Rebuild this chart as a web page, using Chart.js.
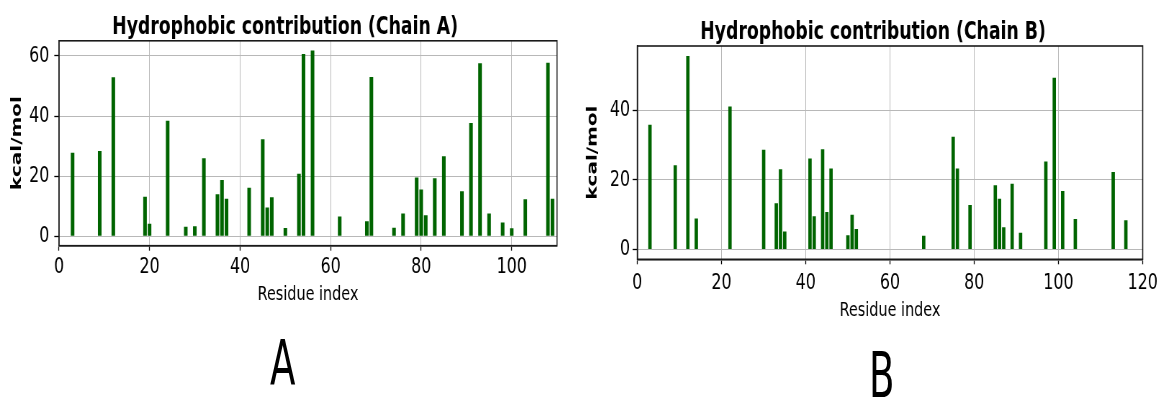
<!DOCTYPE html>
<html>
<head>
<meta charset="utf-8">
<script src="https://cdn.jsdelivr.net/npm/chart.js@4"></script>
<style>
  html, body { margin: 0; padding: 0; background: #fff; width: 1159px; height: 397px; overflow: hidden; }
  .panel { position: absolute; top: 0; transform-origin: 0 0; transform: scaleX(0.72); }
  .tag { position: absolute; font-family: 'DejaVu Sans'; font-size: 62px; line-height: 1; color: #000;
         transform-origin: 0 0; transform: scaleX(0.6); }
</style>
</head>
<body>
<div class="panel" style="left:0px"><canvas id="chartA" width="792" height="307"></canvas></div>
<div class="panel" style="left:580px"><canvas id="chartB" width="814" height="323"></canvas></div>
<div class="tag" style="left:270px; top:333px">A</div>
<div class="tag" style="left:869px; top:345px">B</div>
<script>
// Chain A - residue index and hydrophobic contribution (kcal/mol)
const residuesA = [3, 9, 12, 19, 20, 24, 28, 30, 32, 35, 36, 37, 42, 45, 46, 47, 50, 53, 54, 56,
                   62, 68, 69, 74, 76, 79, 80, 81, 83, 85, 89, 91, 93, 95, 98, 100, 103, 108, 109];
const valuesA = [27.8, 28.4, 52.9, 13.2, 4.2, 38.4, 3.2, 3.4, 26.0, 14.0, 18.7, 12.5, 16.2, 32.3, 9.6, 13.0, 2.8, 20.8, 60.6, 61.8,
                 6.6, 5.0, 53.0, 2.9, 7.6, 19.6, 15.6, 7.0, 19.3, 26.6, 15.0, 37.7, 57.5, 7.6, 4.6, 2.7, 12.3, 57.7, 12.5];

// Chain B
const residuesB = [3, 9, 12, 14, 22, 30, 33, 34, 35, 41, 42, 44, 45, 46, 50, 51, 52, 68, 75, 76,
                   79, 85, 86, 87, 89, 91, 97, 99, 101, 104, 113, 116];
const valuesB = [35.9, 24.2, 55.6, 8.9, 41.1, 28.7, 13.3, 23.1, 5.2, 26.2, 9.6, 28.8, 10.8, 23.3, 4.1, 10.0, 5.9, 4.0, 32.4, 23.3,
                 12.8, 18.5, 14.6, 6.4, 18.9, 4.8, 25.3, 49.4, 16.8, 8.8, 22.3, 8.4];

// tick labels and axis ranges
const xTicksA = [0, 20, 40, 60, 80, 100];
const yTicksA = [0, 20, 40, 60];
const xTicksB = [0, 20, 40, 60, 80, 100, 120];
const yTicksB = [0, 20, 40];
const xRangeA = [0, 110], yRangeA = [-3.1, 65];
const xRangeB = [0, 120], yRangeB = [-2.8, 58.5];

const FONT = 'DejaVu Sans';

// matplotlib style box round the axes
const framePlugin = {
  id: 'frame',
  afterDraw(chart) {
    const { ctx, chartArea: a } = chart;
    ctx.save();
    ctx.strokeStyle = '#1a1a1a';
    ctx.lineWidth = 1.6;
    ctx.strokeRect(a.left, a.top, a.right - a.left, a.bottom - a.top);
    ctx.restore();
  }
};

function makeChart(id, title, residues, values, xTicks, yTicks, xRange, yRange, lay) {
  const ctx = document.getElementById(id).getContext('2d');
  return new Chart(ctx, {
    type: 'bar',
    data: {
      datasets: [{
        data: residues.map((r, i) => ({ x: r, y: values[i] })),
        backgroundColor: '#006400',
        borderWidth: 0,
        barPercentage: 0.8,
        categoryPercentage: 1
      }]
    },
    plugins: [framePlugin],
    options: {
      responsive: false,
      animation: false,
      layout: { padding: 0 },
      plugins: {
        legend: { display: false },
        tooltip: { enabled: false },
        title: {
          display: true,
          text: title,
          color: '#000',
          font: { family: FONT, size: 24, weight: 'bold', lineHeight: 1.1 },
          padding: { top: lay.titleTop, bottom: lay.titleBottom }
        }
      },
      scales: {
        x: {
          type: 'linear',
          min: xRange[0],
          max: xRange[1],
          offset: false,
          afterBuildTicks: s => { s.ticks = xTicks.map(v => ({ value: v })); },
          afterFit: s => { s.paddingLeft = 0; s.paddingRight = 0; },
          grid: { color: '#b8b8b8', lineWidth: 1, offset: false, tickColor: '#000', tickLength: 5, tickWidth: 1.3 },
          border: { color: '#1a1a1a', width: 1.6 },
          ticks: { color: '#000', font: { family: FONT, size: 22, lineHeight: 1.2 }, padding: lay.xTickPad, maxRotation: 0 },
          title: {
            display: true, text: 'Residue index', color: '#000',
            font: { family: FONT, size: 20, lineHeight: 1.2 },
            padding: { top: lay.xTitleTop, bottom: 0 }
          }
        },
        y: {
          min: yRange[0],
          max: yRange[1],
          afterBuildTicks: s => { s.ticks = yTicks.map(v => ({ value: v })); },
          afterFit: s => { s.width = lay.plotLeft; s.paddingTop = 0; s.paddingBottom = 0; },
          grid: { color: '#b8b8b8', lineWidth: 1, tickColor: '#000', tickLength: 6.5, tickWidth: 1.3 },
          border: { color: '#1a1a1a', width: 1.6 },
          ticks: { color: '#000', font: { family: FONT, size: 22, lineHeight: 1.2 }, padding: lay.yTickPad },
          title: {
            display: true, text: 'kcal/mol', color: '#000',
            font: { family: FONT, size: 20, weight: 'bold', lineHeight: 1.2 },
            padding: { top: lay.yTitleTop, bottom: 0 }
          }
        },
        // empty right-hand strip so the title stays centred on the whole canvas
        yr: {
          position: 'right',
          afterFit: s => { s.width = lay.rightGap; s.paddingTop = 0; s.paddingBottom = 0; },
          grid: { display: false },
          border: { display: false },
          ticks: { display: false }
        }
      }
    }
  });
}

makeChart('chartA', 'Hydrophobic contribution (Chain A)', residuesA, valuesA, xTicksA, yTicksA, xRangeA, yRangeA,
  { rightGap: 18.4, titleTop: 14.4, titleBottom: 0, xTickPad: 3.6, xTitleTop: -1.3, plotLeft: 81.9, yTickPad: 7, yTitleTop: 11.6 });

makeChart('chartB', 'Hydrophobic contribution (Chain B)', residuesB, valuesB, xTicksB, yTicksB, xRangeB, yRangeB,
  { rightGap: 32.5, titleTop: 19.6, titleBottom: 0, xTickPad: 6.2, xTitleTop: -4.1, plotLeft: 79.6, yTickPad: 3.7, yTitleTop: 6.1 });
</script>
</body>
</html>
